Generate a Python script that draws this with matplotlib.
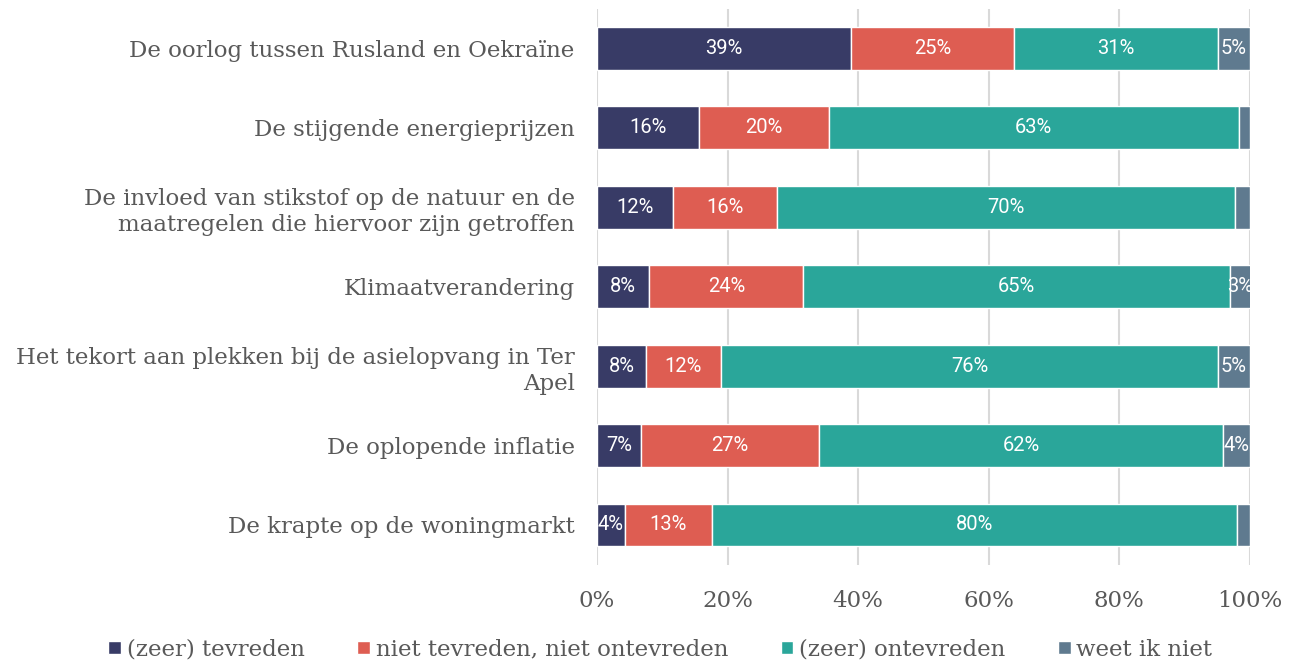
import matplotlib
matplotlib.use("Agg")
import matplotlib.pyplot as plt
import numpy as np

categories = [
    "De oorlog tussen Rusland en Oekraïne",
    "De stijgende energieprijzen",
    "De invloed van stikstof op de natuur en de\nmaatregelen die hiervoor zijn getroffen",
    "Klimaatverandering",
    "Het tekort aan plekken bij de asielopvang in Ter\nApel",
    "De oplopende inflatie",
    "De krapte op de woningmarkt",
]
series_names = ["(zeer) tevreden", "niet tevreden, niet ontevreden", "(zeer) ontevreden", "weet ik niet"]
tevreden = [38.9, 15.6, 11.6, 8.0, 7.5, 6.7, 4.3]
neutraal = [25.0, 19.9, 16.0, 23.6, 11.5, 27.3, 13.3]
ontevreden = [31.2, 62.8, 70.1, 65.4, 76.1, 61.9, 80.4]
weet_niet = [4.9, 1.7, 2.3, 3.1, 4.9, 4.1, 2.0]
tick_labels = ["0%", "20%", "40%", "60%", "80%", "100%"]

colors = ["#383b66", "#de5d52", "#2aa69a", "#5f7a8f"]
text_color = "#595959"
serif = "DejaVu Serif"
fs = 16.5

fig = plt.figure(figsize=(13, 6.64), dpi=100)
ax = fig.add_axes([0.4592, 0.1496, 0.5023, 0.8371])

y = np.arange(len(categories))
left = np.zeros(len(categories))
for name, vals, c in zip(series_names, [tevreden, neutraal, ontevreden, weet_niet], colors):
    vals = np.array(vals)
    ax.barh(y, vals, left=left, height=0.54, color=c, edgecolor="white", linewidth=1, label=name, zorder=3)
    for yi, l, v in zip(y, left, vals):
        if v >= 3:
            ax.text(l + v / 2, yi, f"{round(v):.0f}%", ha="center", va="center", color="white",
                    fontsize=14.5, family="Roboto", zorder=4)
    left += vals

ax.set_xlim(0, 100)
ax.set_ylim(len(categories) - 0.5, -0.5)
ax.set_xticks([0, 20, 40, 60, 80, 100])
ax.set_xticklabels(tick_labels, family=serif, fontsize=fs, color=text_color)
ax.set_yticks(y)
ax.set_yticklabels(categories, family=serif, fontsize=fs, color=text_color, ha="right", linespacing=1.25)
ax.tick_params(axis="both", length=0)
ax.tick_params(axis="x", pad=18)
ax.tick_params(axis="y", pad=16)
for s in ax.spines.values():
    s.set_visible(False)
ax.grid(axis="x", color="#d9d9d9", linewidth=1.5, zorder=0)
ax.set_axisbelow(True)

leg = fig.legend(loc="lower center", bbox_to_anchor=(0.508, -0.026), ncol=4, frameon=False,
                 prop={"family": serif, "size": fs}, handlelength=0.55, handleheight=0.55,
                 handletextpad=0.25, columnspacing=2.3)
for t in leg.get_texts():
    t.set_color(text_color)

fig.savefig("out.png", dpi=100)
